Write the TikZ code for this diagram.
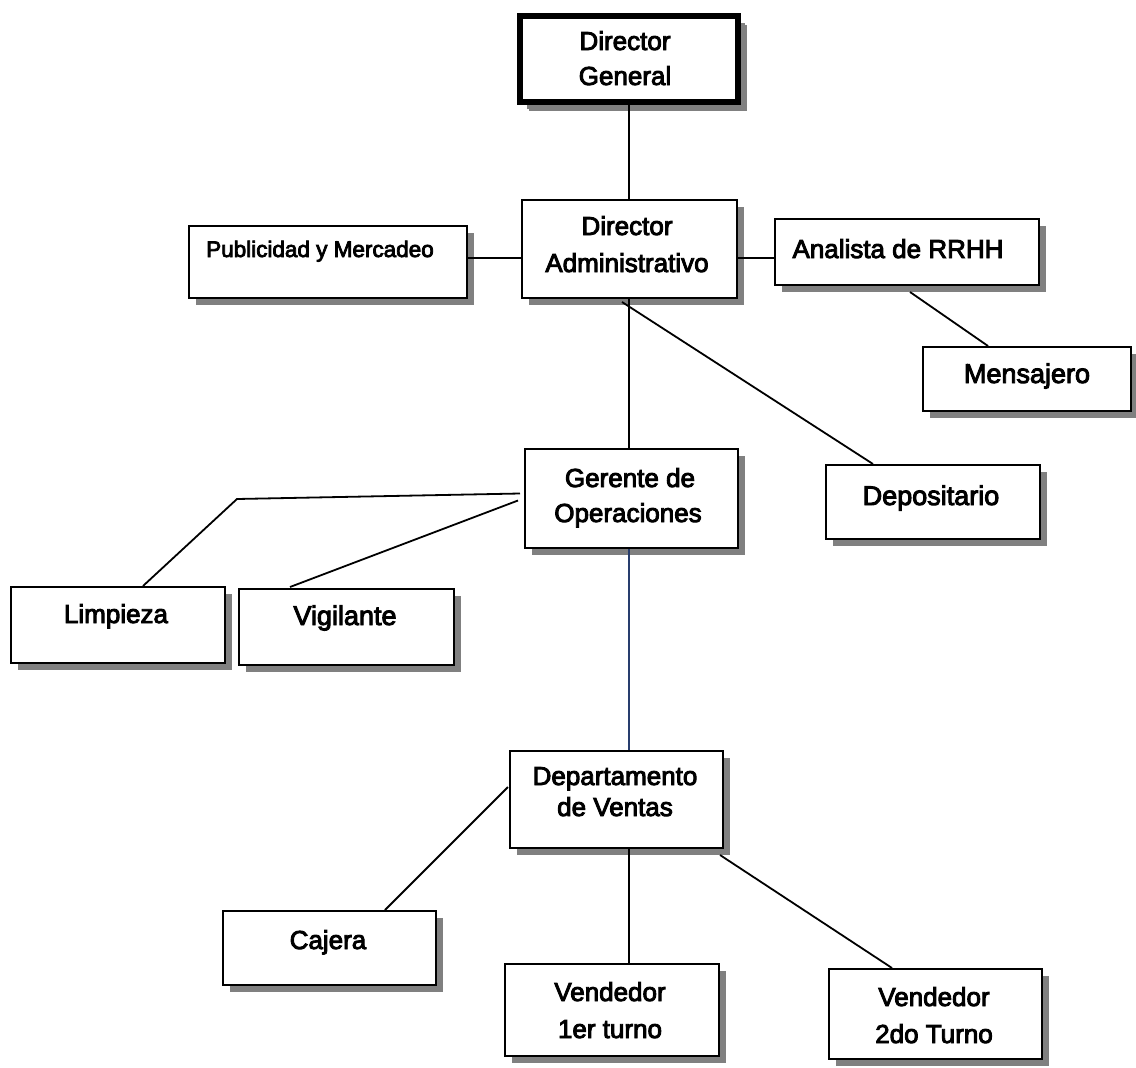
\documentclass[tikz,border=0pt]{standalone}
\usepackage{fontspec}
\setmainfont{Liberation Sans}[FakeBold=3.5]
\usetikzlibrary{shadows,calc}
\definecolor{shadowgray}{RGB}{128,128,128}
\definecolor{linkblue}{RGB}{40,62,110}
\begin{document}
\begin{tikzpicture}[x=1pt,y=-1pt,
  box/.style={draw=black, line width=2pt, fill=white, inner sep=0pt, anchor=north west,
    drop shadow={shadow xshift=7pt, shadow yshift=-7pt, fill=shadowgray, opacity=1}},
  topbox/.style={box, line width=6pt,
    drop shadow={shadow xshift=9pt, shadow yshift=-9pt, fill=shadowgray, opacity=1}},
  txt/.style={inner sep=0pt, anchor=base, font=\fontsize{26}{30}\selectfont},
  smalltxt/.style={txt, font=\fontsize{22.5}{27}\selectfont},
  bigtxt/.style={txt, font=\fontsize{27}{32}\selectfont},
  link/.style={draw=black, line width=1.8pt},
  bluelink/.style={draw=linkblue, line width=1.8pt}]
\useasboundingbox (0,0) rectangle (1136,1068);
\fill[white] (0,0) rectangle (1136,1068);

% boxes
\node[topbox, minimum width=218pt, minimum height=86pt] (dg) at (517,13) {};
\node[box, minimum width=215pt, minimum height=98pt] (da) at (521,199) {};
\node[box, minimum width=278pt, minimum height=72pt] (pub) at (188,225) {};
\node[box, minimum width=264pt, minimum height=66pt] (ana) at (774,218) {};
\node[box, minimum width=208pt, minimum height=64pt] (men) at (922,346) {};
\node[box, minimum width=214pt, minimum height=74pt] (dep) at (825,464) {};
\node[box, minimum width=213pt, minimum height=99pt] (ger) at (524,448) {};
\node[box, minimum width=214pt, minimum height=76pt] (lim) at (10,586) {};
\node[box, minimum width=215pt, minimum height=76pt] (vig) at (238,588) {};
\node[box, minimum width=213pt, minimum height=97pt] (dv) at (509,750) {};
\node[box, minimum width=213pt, minimum height=74pt] (caj) at (222,910) {};
\node[box, minimum width=214pt, minimum height=92pt] (vone) at (504,963) {};
\node[box, minimum width=213pt, minimum height=90pt] (vtwo) at (828,968) {};

% texts
\node[txt] (dg1) at (625,50) {Director};
\node[txt] (dg2) at (625,85) {General};
\node[txt] (da1) at (627,235) {Director};
\node[txt] (da2) at (627,272) {Administrativo};
\node[smalltxt] (pubt) at (320,257) {Publicidad y Mercadeo};
\node[txt] (anat) at (898,258) {Analista de RRHH};
\node[bigtxt] (ment) at (1027,383) {Mensajero};
\node[bigtxt] (dept) at (931,505) {Depositario};
\node[txt] (ger1) at (630,487) {Gerente de};
\node[txt] (ger2) at (628,522) {Operaciones};
\node[txt] (limt) at (116,623) {Limpieza};
\node[bigtxt] (vigt) at (345,625) {Vigilante};
\node[txt] (dv1) at (615,785) {Departamento};
\node[txt] (dv2) at (615,816) {de Ventas};
\node[txt] (cajt) at (328,949) {Cajera};
\node[txt] (v11) at (610,1001) {Vendedor};
\node[txt] (v12) at (610,1038) {1er turno};
\node[txt] (v21) at (934,1006) {Vendedor};
\node[txt] (v22) at (934,1043) {2do Turno};

% connectors
\draw[link] (dg.south) -- (da.north -| dg.south);
\draw[link] (pub.east |- 0,258) -- (da.west |- 0,258);
\draw[link] (da.east |- 0,258) -- (ana.west |- 0,258);
\draw[link] ($(ana.south west)+(136,6)$) -- ($(men.north west)+(66,0)$);
\draw[link] (da.south -| dg.south) -- (ger.north -| dg.south);
\draw[link] ($(da.south west)+(101,3)$) -- ($(dep.north west)+(48,0)$);
\coordinate (bend) at (237,499);
\draw[link] ($(ger.west)+(-4,-5)$) -- (bend) -- ($(lim.north west)+(133,0)$);
\draw[link] ($(ger.west)+(-6,2)$) -- ($(vig.north west)+(52,-1)$);
\draw[bluelink] (ger.south -| dg.south) -- (dv.north -| dg.south);
\draw[link] ($(dv.north west)+(-1,37)$) -- ($(caj.north west)+(163,0)$);
\draw[link] (dv.south -| dg.south) -- (vone.north -| dg.south);
\draw[link] ($(dv.south east)+(-4,6)$) -- ($(vtwo.north west)+(64,0)$);
\end{tikzpicture}
\end{document}
